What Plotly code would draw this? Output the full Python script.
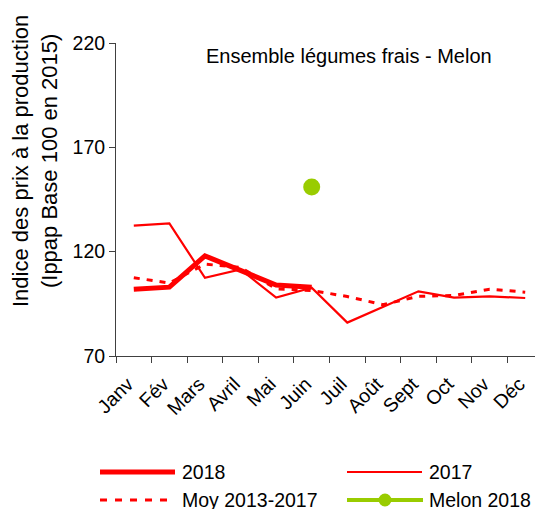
import plotly.graph_objects as go

months = ["Janv", "Fév", "Mars", "Avril", "Mai", "Juin", "Juil", "Août", "Sept", "Oct", "Nov", "Déc"]
y2018 = [102, 103, 118, 111, 104, 103, None, None, None, None, None, None]
y2017 = [132.5, 133.5, 107.5, 111.5, 98, 102.7, 86, 93.5, 101, 98, 98.6, 97.8]
ymoy = [107.5, 105, 114, 112.5, 102.2, 101.4, 98.5, 94.6, 98.6, 99, 102, 100.6]
ymelon = [None, None, None, None, None, 151, None, None, None, None, None, None]
yticks = [70, 120, 170, 220]

title = "Ensemble légumes frais - Melon"
ytitle = "Indice des prix à la production<br>(Ippap Base 100 en 2015)"
legend_names = ["2018", "2017", "Moy 2013-2017", "Melon 2018"]

# page body has an 8px margin: figure is drawn at (8, 8) in the window
OFF = 8
W, H = 543 - OFF, 509 - OFF
L, R, T, B = 116 - OFF, 0, 43 - OFF, 153
PW, PH = W - L - R, H - T - B

def px(x):
    return (x - OFF - L) / PW

def py(y):
    return (H - B - (y - OFF)) / PH

RED = "#FF0000"
GREEN = "#99CC00"
FONT = "Liberation Sans, Arial, sans-serif"

fig = go.Figure()
fig.add_trace(go.Scatter(x=months, y=ymoy, mode="lines", line=dict(color=RED, width=3, dash="6px,7px"), showlegend=False))
fig.add_trace(go.Scatter(x=months, y=y2017, mode="lines", line=dict(color=RED, width=2.2), showlegend=False))
fig.add_trace(go.Scatter(x=months, y=y2018, mode="lines", line=dict(color=RED, width=5), showlegend=False))
fig.add_trace(go.Scatter(x=months, y=ymelon, mode="markers", marker=dict(color=GREEN, size=17), showlegend=False))

shapes = []
annotations = []

annotations.append(dict(text=title, x=px(348.5), y=py(56), xref="paper", yref="paper",
                        showarrow=False, xanchor="center", yanchor="middle",
                        font=dict(size=20, color="black", family=FONT)))
annotations.append(dict(text=ytitle, x=px(35), y=py(161), xref="paper", yref="paper",
                        showarrow=False, xanchor="center", yanchor="middle", textangle=-90,
                        font=dict(size=22, color="black", family=FONT)))

leg = [
    (100, 175, 472, dict(color=RED, width=5), 180, legend_names[0], False),
    (347, 422, 472, dict(color=RED, width=2.2), 427, legend_names[1], False),
    (100, 175, 500, dict(color=RED, width=3, dash="7px,8px"), 180, legend_names[2], False),
    (347, 423, 500, dict(color=GREEN, width=4), 427, legend_names[3], True),
]
for x0, x1, yy, ln, tx, name, mk in leg:
    shapes.append(dict(type="line", xref="paper", yref="paper", x0=px(x0), x1=px(x1),
                       y0=py(yy), y1=py(yy), line=ln))
    if mk:
        r = 6.5
        cx = (x0 + x1) / 2
        shapes.append(dict(type="circle", xref="paper", yref="paper",
                           x0=px(cx - r), x1=px(cx + r), y0=py(yy + r), y1=py(yy - r),
                           fillcolor=GREEN, line=dict(color=GREEN, width=0)))
    annotations.append(dict(text=name, x=px(tx), y=py(yy), xref="paper", yref="paper",
                            showarrow=False, xanchor="left", yanchor="middle",
                            font=dict(size=19.5, color="black", family=FONT)))

fig.update_layout(
    width=W, height=H,
    margin=dict(l=L, r=R, t=T, b=B, pad=0),
    paper_bgcolor="white", plot_bgcolor="white",
    font=dict(family=FONT, size=19.5, color="black"),
    showlegend=False,
    shapes=shapes,
    annotations=annotations,
    xaxis=dict(type="category", range=[-0.5, 11.5], tickson="boundaries",
               showline=True, linecolor="#404040", linewidth=1,
               ticks="outside", ticklen=6, tickcolor="#404040",
               tickangle=-45, showgrid=False, zeroline=False,
               ticklabelstandoff=8, ticklabelshift=-6,
               tickfont=dict(size=19.5, color="black", family=FONT)),
    yaxis=dict(range=[70, 220], tickvals=yticks, showline=True, linecolor="#404040", linewidth=1,
               ticks="outside", ticklen=6, tickcolor="#404040", showgrid=False, zeroline=False,
               tickfont=dict(size=19.5, color="black", family=FONT)),
)

fig.write_html("out.html")
